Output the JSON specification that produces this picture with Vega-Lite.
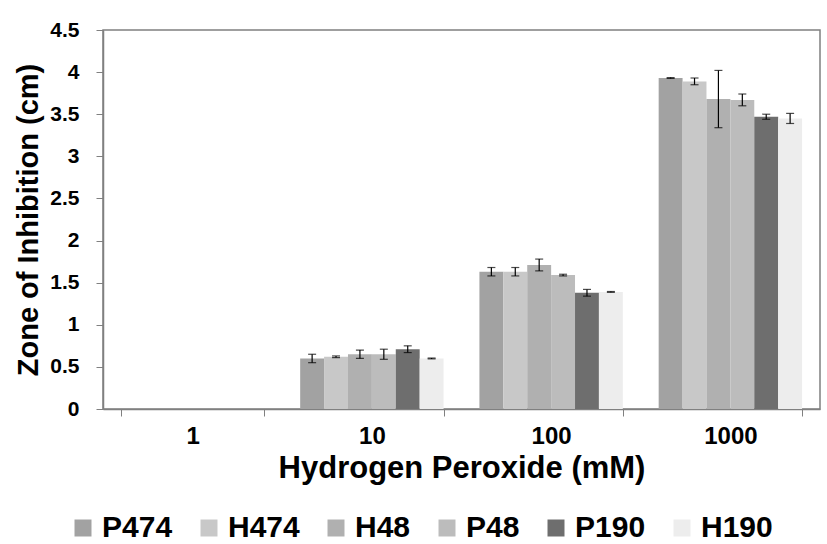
{
  "$schema": "https://vega.github.io/schema/vega-lite/v6.json",
  "width": 717,
  "height": 379,
  "autosize": {"type": "none"},
  "padding": {"left": 103, "top": 30, "right": 7, "bottom": 135},
  "background": "white",
  "config": {
    "font": "Liberation Sans",
    "view": {"stroke": "#808080", "strokeWidth": 1.5}
  },
  "data": {
    "values": [
      {"conc": "1", "strain": "P474", "mean": 0, "err": 0},
      {"conc": "1", "strain": "H474", "mean": 0, "err": 0},
      {"conc": "1", "strain": "H48", "mean": 0, "err": 0},
      {"conc": "1", "strain": "P48", "mean": 0, "err": 0},
      {"conc": "1", "strain": "P190", "mean": 0, "err": 0},
      {"conc": "1", "strain": "H190", "mean": 0, "err": 0},
      {"conc": "10", "strain": "P474", "mean": 0.60, "err": 0.05},
      {"conc": "10", "strain": "H474", "mean": 0.62, "err": 0.01},
      {"conc": "10", "strain": "H48", "mean": 0.65, "err": 0.05},
      {"conc": "10", "strain": "P48", "mean": 0.65, "err": 0.06},
      {"conc": "10", "strain": "P190", "mean": 0.71, "err": 0.04},
      {"conc": "10", "strain": "H190", "mean": 0.60, "err": 0.005},
      {"conc": "100", "strain": "P474", "mean": 1.63, "err": 0.05},
      {"conc": "100", "strain": "H474", "mean": 1.63, "err": 0.05},
      {"conc": "100", "strain": "H48", "mean": 1.71, "err": 0.07},
      {"conc": "100", "strain": "P48", "mean": 1.59, "err": 0.01},
      {"conc": "100", "strain": "P190", "mean": 1.38, "err": 0.04},
      {"conc": "100", "strain": "H190", "mean": 1.39, "err": 0.005},
      {"conc": "1000", "strain": "P474", "mean": 3.93, "err": 0.005},
      {"conc": "1000", "strain": "H474", "mean": 3.89, "err": 0.04},
      {"conc": "1000", "strain": "H48", "mean": 3.68, "err": 0.34},
      {"conc": "1000", "strain": "P48", "mean": 3.67, "err": 0.07},
      {"conc": "1000", "strain": "P190", "mean": 3.47, "err": 0.03},
      {"conc": "1000", "strain": "H190", "mean": 3.45, "err": 0.06}
    ]
  },
  "transform": [
    {"calculate": "datum.mean - datum.err", "as": "lo"},
    {"calculate": "datum.mean + datum.err", "as": "hi"}
  ],
  "encoding": {
    "x": {
      "field": "conc", "type": "nominal", "sort": ["1", "10", "100", "1000"],
      "scale": {"domain": ["1", "10", "100", "1000"], "paddingInner": 0.2, "paddingOuter": 0.1},
      "axis": {
        "title": "Hydrogen Peroxide (mM)", "labelAngle": 0,
        "labelFont": "Liberation Sans", "labelFontWeight": "bold", "labelFontSize": 24, "labelColor": "black", "labelPadding": 8,
        "titleFont": "Liberation Sans", "titleFontWeight": "bold", "titleFontSize": 31, "titleColor": "black", "titlePadding": 5,
        "tickBand": "extent", "tickColor": "#808080", "tickSize": 7, "domainColor": "#808080", "domainWidth": 1.5
      }
    },
    "xOffset": {"field": "strain", "type": "nominal", "sort": ["P474", "H474", "H48", "P48", "P190", "H190"]}
  },
  "layer": [
    {
      "mark": {"type": "bar"},
      "encoding": {
        "y": {
          "field": "mean", "type": "quantitative",
          "scale": {"domain": [0, 4.5]},
          "axis": {
            "title": "Zone of Inhibition (cm)", "values": [0, 0.5, 1, 1.5, 2, 2.5, 3, 3.5, 4, 4.5],
            "format": ".1~f",
            "grid": false, "labelFlush": false,
            "labelFont": "Liberation Sans", "labelFontWeight": "bold", "labelFontSize": 21, "labelColor": "black", "labelPadding": 17,
            "titleFont": "Liberation Sans", "titleFontWeight": "bold", "titleFontSize": 29, "titleColor": "black", "titlePadding": 6,
            "tickColor": "#808080", "tickSize": 7, "domainColor": "#808080", "domainWidth": 1.5
          }
        },
        "color": {
          "field": "strain", "type": "nominal",
          "sort": ["P474", "H474", "H48", "P48", "P190", "H190"],
          "scale": {
            "domain": ["P474", "H474", "H48", "P48", "P190", "H190"],
            "range": ["#a2a2a2", "#c8c8c8", "#b0b0b0", "#bcbcbc", "#6e6e6e", "#ededed"]
          },
          "legend": {
            "title": null, "orient": "none", "direction": "horizontal",
            "legendX": -35, "legendY": 483, "padding": 0, "gridAlign": "none",
            "symbolType": "square", "symbolSize": 289, "symbolStrokeWidth": 0,
            "labelFont": "Liberation Sans", "labelFontWeight": "bold", "labelFontSize": 30, "labelColor": "black",
            "labelOffset": 4, "columnPadding": 21
          }
        }
      }
    },
    {
      "transform": [{"filter": "datum.mean > 0"}],
      "mark": {"type": "rule", "color": "black", "strokeWidth": 1.2},
      "encoding": {"y": {"field": "lo", "type": "quantitative"}, "y2": {"field": "hi"}}
    },
    {
      "transform": [{"filter": "datum.mean > 0"}],
      "mark": {"type": "tick", "color": "black", "size": 8, "thickness": 1.2},
      "encoding": {"y": {"field": "lo", "type": "quantitative"}}
    },
    {
      "transform": [{"filter": "datum.mean > 0"}],
      "mark": {"type": "tick", "color": "black", "size": 8, "thickness": 1.2},
      "encoding": {"y": {"field": "hi", "type": "quantitative"}}
    }
  ]
}
